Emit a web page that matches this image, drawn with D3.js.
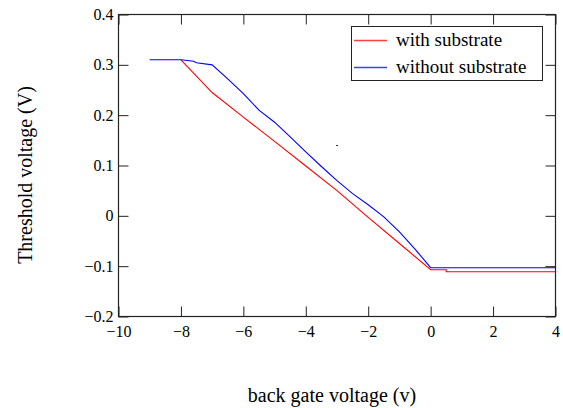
<!DOCTYPE html>
<html>
<head>
<meta charset="utf-8">
<script src="https://cdn.jsdelivr.net/npm/d3@7"></script>
<style>
  html, body { margin: 0; padding: 0; background: #fff; }
  svg { display: block; }
  text { font-family: "Liberation Serif", "Times New Roman", serif; fill: #000; }
</style>
</head>
<body>
<svg id="chart" width="563" height="408"></svg>
<script>
// ---- data ----
const withX    = [-8, -7, -6, -5, -4, -3, -2, -1, 0, 0.5, 0.5, 4];
const withY    = [0.31, 0.245, 0.196, 0.148, 0.099, 0.05, -0.003, -0.055, -0.107, -0.107, -0.111, -0.111];
const withoutX = [-9, -8, -7.6, -7.5, -7, -6.5, -6, -5.5, -5, -4.5, -4, -3.5, -3, -2.5, -2, -1.5, -1, -0.5, 0, 4];
const withoutY = [0.31, 0.31, 0.307, 0.304, 0.30, 0.272, 0.243, 0.21, 0.186, 0.157, 0.127, 0.098, 0.07, 0.044, 0.022, -0.002, -0.032, -0.066, -0.103, -0.103];
const xTicks = [-10, -8, -6, -4, -2, 0, 2, 4];
const xTickLabels = ["\u221210", "\u22128", "\u22126", "\u22124", "\u22122", "0", "2", "4"];
const yTicks = [-0.2, -0.1, 0, 0.1, 0.2, 0.3, 0.4];
const yTickLabels = ["\u22120.2", "\u22120.1", "0", "0.1", "0.2", "0.3", "0.4"];
const seriesNames = ["with substrate", "without substrate"];
const seriesColors = ["#ff0000", "#0000ff"];
const strayX = [-3.0];
const strayY = [0.138];
const xTitle = "back gate voltage (v)";
const yTitle = "Threshold voltage (V)";

// ---- layout ----
const svg = d3.select("#chart");
const L = 118.5, R = 555.5, T = 14.5, B = 316.5;
const x = d3.scaleLinear().domain([-10, 4]).range([L, R]);
const y = d3.scaleLinear().domain([-0.2, 0.4]).range([B, T]);

// series lines
const line = d3.line().x(d => x(d[0])).y(d => y(d[1]));
const series = [
  d3.zip(withX, withY),
  d3.zip(withoutX, withoutY)
];
svg.append("g").selectAll("path").data(series).join("path")
  .attr("d", line)
  .attr("fill", "none")
  .attr("stroke", (d, i) => seriesColors[i])
  .attr("stroke-width", 1.1);

// stray dot
svg.append("g").selectAll("rect").data(d3.zip(strayX, strayY)).join("rect")
  .attr("x", d => Math.round(x(d[0])) - 1)
  .attr("y", d => Math.round(y(d[1])) - 1)
  .attr("width", 2).attr("height", 1).attr("fill", "#333");

// axes
const tickLen = 10;
const ax = svg.append("g").attr("class", "axes");
const axBottom = d3.axisBottom(x).tickValues(xTicks)
  .tickFormat((d, i) => xTickLabels[i]).tickSizeInner(-tickLen).tickSizeOuter(0).tickPadding(9);
const axTop = d3.axisTop(x).tickValues(xTicks).tickFormat("").tickSizeInner(-tickLen).tickSizeOuter(0);
const axLeft = d3.axisLeft(y).tickValues(yTicks)
  .tickFormat((d, i) => yTickLabels[i]).tickSizeInner(-tickLen).tickSizeOuter(0).tickPadding(5);
const axRight = d3.axisRight(y).tickValues(yTicks).tickFormat("").tickSizeInner(-tickLen).tickSizeOuter(0);

ax.append("g").attr("transform", `translate(0,${B})`).call(axBottom);
ax.append("g").attr("transform", `translate(0,${T})`).call(axTop);
ax.append("g").attr("transform", `translate(${L},0)`).call(axLeft);
ax.append("g").attr("transform", `translate(${R},0)`).call(axRight);
ax.selectAll("g").attr("font-family", "Liberation Serif");
ax.selectAll(".domain").remove();
ax.selectAll(".tick line").attr("stroke", "#222").attr("stroke-width", 1);
ax.selectAll(".tick text")
  .style("font-family", "'Liberation Serif', serif")
  .style("font-size", "16px").attr("fill", "#000");

// frame
svg.append("rect")
  .attr("x", L).attr("y", T).attr("width", R - L).attr("height", B - T)
  .attr("fill", "none").attr("stroke", "#222").attr("stroke-width", 1.2);

// legend
const lg = svg.append("g");
lg.append("rect")
  .attr("x", 351.5).attr("y", 26.5).attr("width", 191).attr("height", 54)
  .attr("fill", "#fff").attr("stroke", "#222").attr("stroke-width", 1);
const items = lg.selectAll("g.item").data(seriesNames).join("g")
  .attr("class", "item")
  .attr("transform", (d, i) => `translate(0,${40 + i * 27})`);
items.append("line")
  .attr("x1", 354).attr("x2", 387).attr("y1", 0.5).attr("y2", 0.5)
  .attr("stroke", (d, i) => seriesColors[i]).attr("stroke-width", 1.5).attr("opacity", 0.75);
items.append("text")
  .attr("x", 396).attr("y", 6)
  .style("font-size", "19px")
  .text(d => d);

// titles
svg.append("text")
  .attr("x", 332).attr("y", 402)
  .attr("text-anchor", "middle")
  .style("font-size", "20px")
  .text(xTitle);
svg.append("text")
  .attr("transform", "translate(32,175) rotate(-90)")
  .attr("text-anchor", "middle")
  .style("font-size", "20px")
  .text(yTitle);
</script>
</body>
</html>
